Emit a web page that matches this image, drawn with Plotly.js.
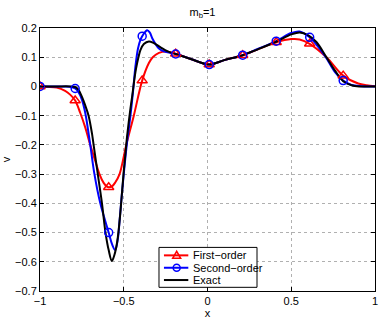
<!DOCTYPE html>
<html>
<head>
<meta charset="utf-8">
<script src="https://cdn.plot.ly/plotly-3.0.1.min.js"></script>
<style>html,body{margin:0;padding:0;background:#fff;}#chart{width:382px;height:319px;}</style>
</head>
<body>
<div id="chart"></div>
<script>
// Exact solution curve
var exactX = [-1, -0.9, -0.82, -0.79, -0.77, -0.75, -0.73, -0.71, -0.69, -0.68, -0.655, -0.63, -0.609, -0.59, -0.571, -0.555, -0.54, -0.53, -0.52, -0.51, -0.5, -0.49, -0.48, -0.47, -0.46, -0.45, -0.44, -0.43, -0.42, -0.41, -0.4, -0.38, -0.35, -0.32, -0.28, -0.24, -0.19, -0.1, 0.01, 0.1, 0.21, 0.3, 0.41, 0.5, 0.55, 0.6, 0.65, 0.71, 0.76, 0.81, 0.86, 0.91, 1];
var exactY = [0, 0, 0, -0.002, -0.012, -0.035, -0.065, -0.1, -0.16, -0.2, -0.3, -0.4, -0.5, -0.56, -0.597, -0.575, -0.535, -0.49, -0.43, -0.36, -0.29, -0.23, -0.17, -0.12, -0.075, -0.035, 0.01, 0.05, 0.08, 0.105, 0.125, 0.145, 0.154, 0.148, 0.134, 0.121, 0.111, 0.094, 0.075, 0.09, 0.107, 0.127, 0.153, 0.178, 0.185, 0.176, 0.152, 0.1, 0.055, 0.018, 0.004, 0.0, 0];

// Second-order curve
var secondX = [-1, -0.9, -0.82, -0.79, -0.77, -0.75, -0.73, -0.7, -0.675, -0.64, -0.59, -0.57, -0.551, -0.535, -0.525, -0.516, -0.5, -0.48, -0.46, -0.445, -0.43, -0.415, -0.4, -0.39, -0.37, -0.36, -0.345, -0.33, -0.31, -0.29, -0.26, -0.19, -0.1, 0.01, 0.1, 0.21, 0.3, 0.41, 0.5, 0.55, 0.61, 0.7, 0.76, 0.81, 0.86, 0.92, 1];
var secondY = [0, 0, -0.001, -0.007, -0.02, -0.045, -0.09, -0.2, -0.3, -0.4, -0.5, -0.54, -0.56, -0.52, -0.46, -0.4, -0.3, -0.19, -0.1, -0.02, 0.07, 0.13, 0.16, 0.172, 0.188, 0.192, 0.185, 0.165, 0.145, 0.13, 0.12, 0.111, 0.094, 0.075, 0.09, 0.107, 0.128, 0.155, 0.183, 0.188, 0.168, 0.105, 0.05, 0.02, 0.005, 0.001, 0];

// First-order curve
var firstX = [-1, -0.9, -0.85, -0.82, -0.79, -0.76, -0.73, -0.7, -0.67, -0.645, -0.62, -0.6, -0.59, -0.57, -0.55, -0.525, -0.485, -0.44, -0.39, -0.35, -0.327, -0.29, -0.25, -0.19, -0.1, 0.01, 0.1, 0.21, 0.3, 0.41, 0.5, 0.55, 0.61, 0.71, 0.81, 0.9, 0.95, 1];
var firstY = [0, -0.004, -0.015, -0.028, -0.048, -0.09, -0.14, -0.2, -0.255, -0.3, -0.33, -0.343, -0.345, -0.342, -0.328, -0.3, -0.2, -0.1, 0.02, 0.08, 0.1, 0.115, 0.12, 0.112, 0.094, 0.075, 0.09, 0.107, 0.127, 0.151, 0.162, 0.161, 0.146, 0.1, 0.037, 0.01, 0.004, 0.001];

// Marker samples
var markX = [-1, -0.79, -0.59, -0.39, -0.19, 0.01, 0.21, 0.41, 0.61, 0.81];
var firstMarkY = [0, -0.048, -0.345, 0.02, 0.112, 0.075, 0.107, 0.151, 0.146, 0.037];
var secondMarkY = [0, -0.007, -0.5, 0.172, 0.111, 0.075, 0.107, 0.155, 0.168, 0.02];

var xTicks = [-1, -0.5, 0, 0.5, 1];
var yTicks = [0.2, 0.1, 0, -0.1, -0.2, -0.3, -0.4, -0.5, -0.6, -0.7];
var legendNames = ['First\u2212order', 'Second\u2212order', 'Exact'];

var RED = '#ff0000', BLUE = '#0000ff', BLACK = '#000000';
var lw = 2;
var FONT = 'Liberation Sans, Arial, sans-serif';

var traces = [
  {x: firstX, y: firstY, mode: 'lines', line: {color: RED, width: lw, shape: 'spline', smoothing: 1}, showlegend: false},
  {x: secondX, y: secondY, mode: 'lines', line: {color: BLUE, width: lw, shape: 'spline', smoothing: 1}, showlegend: false},
  {x: exactX, y: exactY, mode: 'lines', line: {color: BLACK, width: lw, shape: 'spline', smoothing: 1}, showlegend: false},
  {x: markX, y: firstMarkY, mode: 'markers', marker: {symbol: 'triangle-up-open', size: 9, color: RED, line: {width: 1.5, color: RED}}, showlegend: false},
  {x: markX, y: secondMarkY, mode: 'markers', marker: {symbol: 'circle-open', size: 8, color: BLUE, line: {width: 1.5, color: BLUE}}, showlegend: false}
];

function fmt(v) { return v < 0 ? '\u2212' + Math.abs(v) : String(v); }

var axisCommon = {
  showline: true, linecolor: '#000', linewidth: 1, mirror: 'ticks',
  ticks: 'inside', ticklen: 4, tickcolor: '#000',
  showgrid: true, gridcolor: '#b0b0b0', griddash: 'dot', gridwidth: 1,
  zeroline: false,
  tickfont: {family: FONT, size: 11, color: '#000'}
};

// Legend box drawn in paper coordinates (plot area: 40..375 px wide, 28..291 px tall)
var LX0 = 0.3552, LX1 = 0.6478, LY0 = 0.014, LY1 = 0.1658;
var lineX0 = 0.370, lineX1 = 0.4427, symX = 0.408, textX = 0.4507;
var rowY = [0.1355, 0.0884, 0.0417];
var rowColor = [RED, BLUE, BLACK];

var shapes = [
  {type: 'rect', xref: 'paper', yref: 'paper', x0: LX0, x1: LX1, y0: LY0, y1: LY1, fillcolor: '#fff', line: {color: '#000', width: 1}, layer: 'above'}
];
var annotations = [];
for (var i = 0; i < 3; i++) {
  shapes.push({type: 'line', xref: 'paper', yref: 'paper', x0: lineX0, x1: lineX1, y0: rowY[i], y1: rowY[i], line: {color: rowColor[i], width: lw}, layer: 'above'});
  annotations.push({xref: 'paper', yref: 'paper', x: textX, y: rowY[i], xanchor: 'left', yanchor: 'middle', text: legendNames[i], showarrow: false, font: {family: FONT, size: 11, color: '#000'}});
}
shapes.push({type: 'path', xref: 'paper', yref: 'paper', xsizemode: 'pixel', ysizemode: 'pixel', xanchor: symX, yanchor: rowY[0], path: 'M-4,-3 L4,-3 L0,4 Z', fillcolor: 'rgba(0,0,0,0)', line: {color: RED, width: 1.5}, layer: 'above'});
shapes.push({type: 'circle', xref: 'paper', yref: 'paper', xsizemode: 'pixel', ysizemode: 'pixel', xanchor: symX, yanchor: rowY[1], x0: -3.5, x1: 3.5, y0: -3.5, y1: 3.5, fillcolor: 'rgba(0,0,0,0)', line: {color: BLUE, width: 1.5}, layer: 'above'});

var layout = {
  width: 382, height: 319,
  margin: {l: 40, r: 7, t: 28, b: 28},
  paper_bgcolor: '#fff', plot_bgcolor: '#fff',
  font: {family: FONT, size: 11, color: '#000'},
  title: {text: 'm<sub>b</sub>=1', x: 0.53, xanchor: 'center', y: 0.962, yanchor: 'middle', font: {size: 11}},
  xaxis: Object.assign({}, axisCommon, {range: [-1, 1], tickvals: xTicks, ticktext: xTicks.map(fmt), title: {text: 'x', standoff: 5, font: {size: 11}}}),
  yaxis: Object.assign({}, axisCommon, {range: [-0.7, 0.2], tickvals: yTicks, ticktext: yTicks.map(fmt), title: {text: 'v', standoff: 4, font: {size: 11}}}),
  showlegend: false,
  shapes: shapes,
  annotations: annotations
};

Plotly.newPlot('chart', traces, layout, {staticPlot: true, displayModeBar: false});
</script>
</body>
</html>
